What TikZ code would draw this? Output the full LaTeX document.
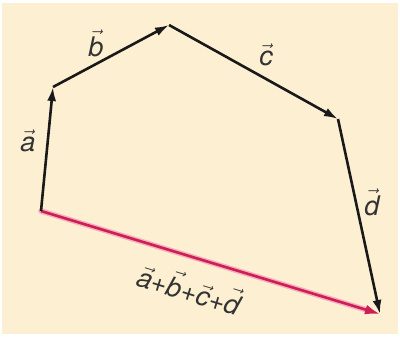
\documentclass[tikz,border=0pt]{standalone}
\usepackage{fontspec}
\setmainfont{TeX Gyre Heros}
\usetikzlibrary{arrows.meta,calc}
\definecolor{bg}{RGB}{253,240,210}
\definecolor{sumred}{RGB}{205,30,85}
\definecolor{sumglow}{RGB}{245,175,190}
\newcommand\vlab[1]{$\vec{\mbox{\itshape #1}}$}
\tikzset{
  vecline/.style={line width=2.6pt, draw=black!90, -{Latex[length=14pt,width=9pt]}},
  sumline/.style={line width=2.6pt, draw=sumred, -{Latex[length=15pt,width=10pt]}},
  lab/.style={font=\fontsize{27}{30}\selectfont, inner sep=0pt, text=black!80}
}
\begin{document}
\begin{tikzpicture}[x=1pt,y=-1pt]
\useasboundingbox (0,0) rectangle (400,343);
\fill[white] (0,0) rectangle (400,343);
\fill[bg] (2,3) rectangle (398,334);
\coordinate (O) at (41,211);
\coordinate (A) at (53,87);
\coordinate (B) at (169,25);
\coordinate (C) at (338,119);
\coordinate (D) at (380,314);
\draw[line width=5.5pt, sumglow, line cap=round] (O) -- ($(O)!0.96!(D)$);
\draw[sumline] (O) -- (D);
\draw[vecline] (O) -- (A);
\draw[vecline] (A) -- (B);
\draw[vecline] (B) -- (C);
\draw[vecline] (C) -- (D);
\node[lab] (la) at (28,141) {\vlab{a}};
\node[lab] (lb) at (96,43) {\vlab{b}};
\node[lab] (lc) at (266,55) {\vlab{c}};
\node[lab] (ld) at (372,202) {\vlab{d}};
\node[lab, rotate=-17] (ls) at (190,288) {\vlab{a}+\vlab{b}+\vlab{c}+\vlab{d}};
\end{tikzpicture}
\end{document}
